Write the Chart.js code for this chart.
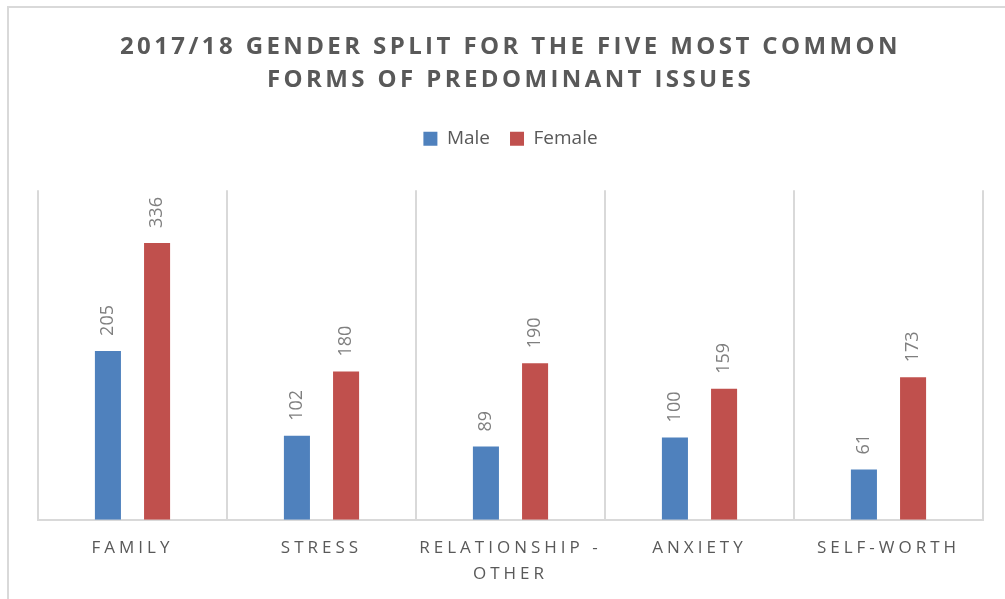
<!DOCTYPE html>
<html>
<head>
<meta charset="utf-8">
<script src="https://cdn.jsdelivr.net/npm/chart.js@4/dist/chart.umd.min.js"></script>
<style>
    html, body { margin: 0; padding: 0; background: #fff; overflow: hidden; }
    #frame { position: absolute; left: 7px; top: 6px; width: 1100px; height: 700px; border: 2px solid #d9d9d9; }
    #box { position: absolute; left: 0; top: 0; width: 1005px; height: 599px; }
</style>
</head>
<body>
<div id="frame"></div>
<div id="box"><canvas id="chart"></canvas></div>
<script>
const categories = ['FAMILY', 'STRESS', ['RELATIONSHIP -', 'OTHER'], 'ANXIETY', 'SELF-WORTH']
const male = [205, 102, 89, 100, 61]
const female = [336, 180, 190, 159, 173]
const titleLines = ['2017/18 GENDER SPLIT FOR THE FIVE MOST COMMON', 'FORMS OF PREDOMINANT ISSUES']

const textGray = '#595959'

// canvas letterSpacing for the title and the category labels
const spaced = (obj, fn, sp) => {
    if (!obj || obj['_sp_' + fn]) return
    const orig = obj[fn].bind(obj)
    obj[fn] = (...args) => {
        const ctx = obj.ctx
        ctx.save()
        ctx.letterSpacing = sp
        orig(...args)
        ctx.restore()
    }
    obj['_sp_' + fn] = true
}

const spacingPlugin = {
    id: 'spacing',
    beforeLayout(chart) {
        const lg = chart.legend
        if (lg && !lg._extra) {
            const fit = lg.fit.bind(lg)
            lg.fit = () => { fit(); lg.height += 32 }
            lg._extra = true
        }
    },
    beforeDraw(chart) {
        spaced(chart.titleBlock, 'draw', '3.4px')
        spaced(chart.scales.x, 'drawLabels', '4px')
    }
}

const valueLabels = {
    id: 'valueLabels',
    afterDatasetsDraw(chart) {
        const ctx = chart.ctx
        ctx.save()
        ctx.font = '18px "Open Sans"'
        ctx.fillStyle = '#7f7f7f'
        ctx.textAlign = 'left'
        ctx.textBaseline = 'middle'
        chart.data.datasets.forEach((ds, i) => {
            chart.getDatasetMeta(i).data.forEach((bar, j) => {
                ctx.save()
                ctx.translate(bar.x, bar.y - 15)
                ctx.rotate(-Math.PI / 2)
                ctx.fillText(String(ds.data[j]), 0, 0)
                ctx.restore()
            })
        })
        ctx.restore()
    }
}

new Chart(document.getElementById('chart'), {
    type: 'bar',
    data: {
        labels: categories,
        datasets: [
            { label: 'Male', data: male, backgroundColor: '#4f81bd' },
            { label: 'Female', data: female, backgroundColor: '#c0504d' }
        ]
    },
    options: {
        responsive: true,
        maintainAspectRatio: false,
        animation: false,
        categoryPercentage: 0.52,
        barPercentage: 0.53,
        layout: { padding: { left: 38, right: 22, top: 0, bottom: -3.5 } },
        plugins: {
            title: {
                display: true,
                text: titleLines,
                color: textGray,
                font: { family: '"Open Sans"', size: 24, weight: 'bold', lineHeight: 1.4 },
                padding: { top: 30, bottom: 12 }
            },
            legend: {
                labels: {
                    color: textGray,
                    font: { family: '"Open Sans"', size: 19 },
                    boxWidth: 14,
                    boxHeight: 14,
                    padding: 20
                }
            },
            tooltip: { enabled: false }
        },
        scales: {
            x: {
                grid: { color: '#d9d9d9', lineWidth: 2, drawTicks: false },
                border: { color: '#d9d9d9', width: 2 },
                ticks: {
                    color: textGray,
                    padding: 15,
                    maxRotation: 0,
                    font: { family: '"Open Sans"', size: 17, lineHeight: 1.55 }
                }
            },
            y: {
                display: false,
                min: 0,
                max: 400
            }
        }
    },
    plugins: [spacingPlugin, valueLabels]
})
</script>
</body>
</html>
